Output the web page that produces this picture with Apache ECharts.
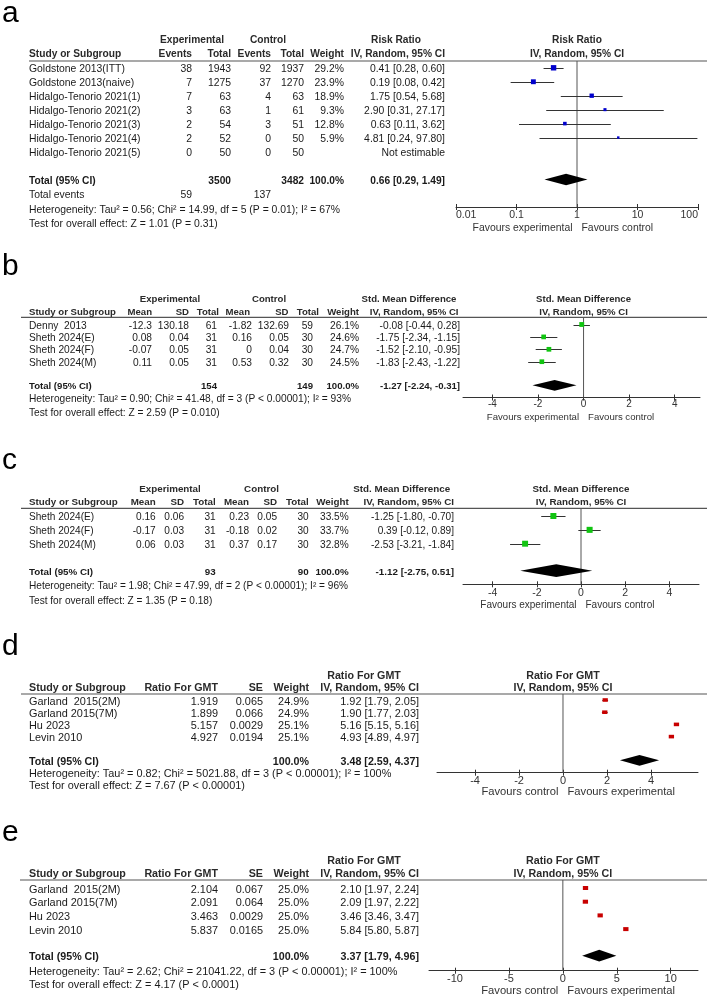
<!DOCTYPE html>
<html>
<head>
<meta charset="utf-8">
<script src="https://cdn.jsdelivr.net/npm/echarts@6.0.0/dist/echarts.min.js"></script>
<style>
  html, body { margin: 0; padding: 0; background: #fff; }
  #forest { width: 708px; height: 999px; }
</style>
</head>
<body>
<div id="forest"></div>
<script>
// ---- panel a: risk ratio (log scale) ----
const aStudies = ['Goldstone 2013(ITT)', 'Goldstone 2013(naive)', 'Hidalgo-Tenorio 2021(1)', 'Hidalgo-Tenorio 2021(2)',
  'Hidalgo-Tenorio 2021(3)', 'Hidalgo-Tenorio 2021(4)', 'Hidalgo-Tenorio 2021(5)'];
const aExpEvents = [38, 7, 7, 3, 2, 2, 0];
const aExpTotal = [1943, 1275, 63, 63, 54, 52, 50];
const aCtlEvents = [92, 37, 4, 1, 3, 0, 0];
const aCtlTotal = [1937, 1270, 63, 61, 51, 50, 50];
const aWeight = [29.2, 23.9, 18.9, 9.3, 12.8, 5.9, null];
const aEst = [0.41, 0.19, 1.75, 2.90, 0.63, 4.81, null];
const aLow = [0.28, 0.08, 0.54, 0.31, 0.11, 0.24, null];
const aHigh = [0.60, 0.42, 5.68, 27.17, 3.62, 97.80, null];
const aPooled = [0.66, 0.29, 1.49];
const aSums = [3500, 3482, 59, 137];
const aTicks = [0.01, 0.1, 1, 10, 100];
const aHet = 'Heterogeneity: Tau² = 0.56; Chi² = 14.99, df = 5 (P = 0.01); I² = 67%';
const aTest = 'Test for overall effect: Z = 1.01 (P = 0.31)';

// ---- panel b: std. mean difference ----
const bStudies = ['Denny  2013', 'Sheth 2024(E)', 'Sheth 2024(F)', 'Sheth 2024(M)'];
const bExpMean = [-12.3, 0.08, -0.07, 0.11];
const bExpSD = [130.18, 0.04, 0.05, 0.05];
const bExpN = [61, 31, 31, 31];
const bCtlMean = [-1.82, 0.16, 0, 0.53];
const bCtlSD = [132.69, 0.05, 0.04, 0.32];
const bCtlN = [59, 30, 30, 30];
const bWeight = [26.1, 24.6, 24.7, 24.5];
const bEst = [-0.08, -1.75, -1.52, -1.83];
const bLow = [-0.44, -2.34, -2.10, -2.43];
const bHigh = [0.28, -1.15, -0.95, -1.22];
const bPooled = [-1.27, -2.24, -0.31];
const bSums = [154, 149];
const bTicks = [-4, -2, 0, 2, 4];
const bHet = 'Heterogeneity: Tau² = 0.90; Chi² = 41.48, df = 3 (P < 0.00001); I² = 93%';
const bTest = 'Test for overall effect: Z = 2.59 (P = 0.010)';

// ---- panel c: std. mean difference ----
const cStudies = ['Sheth 2024(E)', 'Sheth 2024(F)', 'Sheth 2024(M)'];
const cExpMean = [0.16, -0.17, 0.06];
const cExpSD = [0.06, 0.03, 0.03];
const cExpN = [31, 31, 31];
const cCtlMean = [0.23, -0.18, 0.37];
const cCtlSD = [0.05, 0.02, 0.17];
const cCtlN = [30, 30, 30];
const cWeight = [33.5, 33.7, 32.8];
const cEst = [-1.25, 0.39, -2.53];
const cLow = [-1.80, -0.12, -3.21];
const cHigh = [-0.70, 0.89, -1.84];
const cPooled = [-1.12, -2.75, 0.51];
const cSums = [93, 90];
const cTicks = [-4, -2, 0, 2, 4];
const cHet = 'Heterogeneity: Tau² = 1.98; Chi² = 47.99, df = 2 (P < 0.00001); I² = 96%';
const cTest = 'Test for overall effect: Z = 1.35 (P = 0.18)';

// ---- panel d: ratio for GMT ----
const dStudies = ['Garland  2015(2M)', 'Garland 2015(7M)', 'Hu 2023', 'Levin 2010'];
const dRatio = [1.919, 1.899, 5.157, 4.927];
const dSE = [0.065, 0.066, 0.0029, 0.0194];
const dWeight = [24.9, 24.9, 25.1, 25.1];
const dEst = [1.92, 1.90, 5.16, 4.93];
const dLow = [1.79, 1.77, 5.15, 4.89];
const dHigh = [2.05, 2.03, 5.16, 4.97];
const dPooled = [3.48, 2.59, 4.37];
const dTicks = [-4, -2, 0, 2, 4];
const dHet = 'Heterogeneity: Tau² = 0.82; Chi² = 5021.88, df = 3 (P < 0.00001); I² = 100%';
const dTest = 'Test for overall effect: Z = 7.67 (P < 0.00001)';

// ---- panel e: ratio for GMT ----
const eStudies = ['Garland  2015(2M)', 'Garland 2015(7M)', 'Hu 2023', 'Levin 2010'];
const eRatio = [2.104, 2.091, 3.463, 5.837];
const eSE = [0.067, 0.064, 0.0029, 0.0165];
const eWeight = [25.0, 25.0, 25.0, 25.0];
const eEst = [2.10, 2.09, 3.46, 5.84];
const eLow = [1.97, 1.97, 3.46, 5.80];
const eHigh = [2.24, 2.22, 3.47, 5.87];
const ePooled = [3.37, 1.79, 4.96];
const eTicks = [-10, -5, 0, 5, 10];
const eHet = 'Heterogeneity: Tau² = 2.62; Chi² = 21041.22, df = 3 (P < 0.00001); I² = 100%';
const eTest = 'Test for overall effect: Z = 4.17 (P < 0.0001)';

const FONT = '"Liberation Sans", Arial, Helvetica, sans-serif';
const ciText = (e, l, h) => e.toFixed(2) + ' [' + l.toFixed(2) + ', ' + h.toFixed(2) + ']';
const pct = w => (w == null ? '' : w.toFixed(1) + '%');
const ciCells = (est, low, high) => est.map((e, i) => (e == null ? 'Not estimable' : ciText(e, low[i], high[i])));

const panels = [
  {
    letter: 'a', letterY: 14, h1: 40, h2: 54, lineY: 61, lineX0: 29,
    row0: 67.8, pitch: 13.95, textDy: 1.2, totalY: 179.5, hetY: 210, testY: 224,
    axisY: 207, plotX0: 456, plotX1: 698, log: true, xMin: 0.01, xMax: 100, ref: 1, ticks: aTicks,
    labelMargin: 3, tickFs: 10.5, favY: 228.5, favFs: 10.4, alignEnds: true,
    fs: 10.4, fsb: 10.2, color: '#0000cc', sq: 1.0, sqW: 1, sqH: 1, dia: 11.7,
    favours: ['Favours experimental', 'Favours control'],
    plotHead: ['Risk Ratio', 'IV, Random, 95% CI'],
    groups: [['Experimental', 192], ['Control', 268], ['Risk Ratio', 396]],
    est: aEst, low: aLow, high: aHigh, weight: aWeight, pooled: aPooled, studies: aStudies,
    cols: [
      { x: 192, head: 'Events', cells: aExpEvents.map(String) },
      { x: 231, head: 'Total', cells: aExpTotal.map(String), total: String(aSums[0]) },
      { x: 271, head: 'Events', cells: aCtlEvents.map(String) },
      { x: 304, head: 'Total', cells: aCtlTotal.map(String), total: String(aSums[1]) },
      { x: 344, head: 'Weight', cells: aWeight.map(pct), total: '100.0%' },
      { x: 445, head: 'IV, Random, 95% CI', cells: ciCells(aEst, aLow, aHigh), total: ciText(...aPooled) }
    ],
    extra: { y: 195, label: 'Total events', cells: [[192, String(aSums[2])], [271, String(aSums[3])]] },
    het: aHet, test: aTest
  },
  {
    letter: 'b', letterY: 267, h1: 299.3, h2: 312.3, lineY: 317.3, lineX0: 21,
    row0: 324.5, pitch: 12.4, textDy: 1.3, totalY: 385.3, hetY: 399.5, testY: 413.5,
    axisY: 397.5, plotX0: 463, plotX1: 700, log: false, xMin: -5.29, xMax: 5.11, ref: 0, ticks: bTicks,
    labelMargin: 1.5, tickFs: 10, favY: 417, favFs: 9.6,
    fs: 10.2, fsb: 9.6, color: '#11c411', sq: 0.95, sqW: 1, sqH: 1, dia: 10.7,
    favours: ['Favours experimental', 'Favours control'],
    plotHead: ['Std. Mean Difference', 'IV, Random, 95% CI'],
    groups: [['Experimental', 170], ['Control', 269], ['Std. Mean Difference', 409]],
    est: bEst, low: bLow, high: bHigh, weight: bWeight, pooled: bPooled, studies: bStudies,
    cols: [
      { x: 152, head: 'Mean', cells: bExpMean.map(String) },
      { x: 189, head: 'SD', cells: bExpSD.map(String) },
      { x: 217, hx: 219, head: 'Total', cells: bExpN.map(String), total: String(bSums[0]) },
      { x: 252, hx: 250, head: 'Mean', cells: bCtlMean.map(String) },
      { x: 289, hx: 288.5, head: 'SD', cells: bCtlSD.map(String) },
      { x: 313, hx: 319, head: 'Total', cells: bCtlN.map(String), total: String(bSums[1]) },
      { x: 359, head: 'Weight', cells: bWeight.map(pct), total: '100.0%' },
      { x: 460, hx: 458.5, head: 'IV, Random, 95% CI', cells: ciCells(bEst, bLow, bHigh), total: ciText(...bPooled) }
    ],
    het: bHet, test: bTest
  },
  {
    letter: 'c', letterY: 461, h1: 489.3, h2: 502.7, lineY: 508.3, lineX0: 21,
    row0: 516, pitch: 13.85, textDy: 1.5, totalY: 570.7, hetY: 586.7, testY: 601,
    axisY: 584.3, plotX0: 463, plotX1: 699, log: false, xMin: -5.34, xMax: 5.34, ref: 0, ticks: cTicks,
    labelMargin: 3, tickFs: 10.5, favY: 605, favFs: 10,
    fs: 10.1, fsb: 9.8, color: '#11c411', sq: 1.04, sqW: 1, sqH: 1, dia: 12.7,
    favours: ['Favours experimental', 'Favours control'],
    plotHead: ['Std. Mean Difference', 'IV, Random, 95% CI'],
    groups: [['Experimental', 170], ['Control', 261.5], ['Std. Mean Difference', 401.7]],
    est: cEst, low: cLow, high: cHigh, weight: cWeight, pooled: cPooled, studies: cStudies,
    cols: [
      { x: 155.7, head: 'Mean', cells: cExpMean.map(String) },
      { x: 184, head: 'SD', cells: cExpSD.map(String) },
      { x: 215.7, head: 'Total', cells: cExpN.map(String), total: String(cSums[0]) },
      { x: 249, head: 'Mean', cells: cCtlMean.map(String) },
      { x: 277, head: 'SD', cells: cCtlSD.map(String) },
      { x: 308.7, head: 'Total', cells: cCtlN.map(String), total: String(cSums[1]) },
      { x: 348.7, head: 'Weight', cells: cWeight.map(pct), total: '100.0%' },
      { x: 454, head: 'IV, Random, 95% CI', cells: ciCells(cEst, cLow, cHigh), total: ciText(...cPooled) }
    ],
    het: cHet, test: cTest
  },
  {
    letter: 'd', letterY: 647, h1: 676, h2: 688.3, lineY: 694, lineX0: 21,
    row0: 700, pitch: 12.2, textDy: 1.5, totalY: 760.3, hetY: 774.3, testY: 785.7,
    axisY: 772.7, plotX0: 437, plotX1: 698, log: false, xMin: -5.73, xMax: 6.14, ref: 0, ticks: dTicks,
    labelMargin: 2.3, tickFs: 11, favY: 792, favFs: 11.2,
    fs: 10.9, fsb: 10.7, color: '#c80000', sq: 1, sqW: 1.06, sqH: 0.72, dia: 10.7,
    favours: ['Favours control', 'Favours experimental'],
    plotHead: ['Ratio For GMT', 'IV, Random, 95% CI'],
    groups: [['Ratio For GMT', 364]],
    est: dEst, low: dLow, high: dHigh, weight: dWeight, pooled: dPooled, studies: dStudies,
    cols: [
      { x: 218, head: 'Ratio For GMT', cells: dRatio.map(v => v.toFixed(3)) },
      { x: 263, head: 'SE', cells: dSE.map(String) },
      { x: 309, head: 'Weight', cells: dWeight.map(pct), total: '100.0%' },
      { x: 419, head: 'IV, Random, 95% CI', cells: ciCells(dEst, dLow, dHigh), total: ciText(...dPooled) }
    ],
    het: dHet, test: dTest
  },
  {
    letter: 'e', letterY: 833, h1: 860.7, h2: 874, lineY: 880, lineX0: 20,
    row0: 888, pitch: 13.7, textDy: 1.5, totalY: 955.7, hetY: 972.3, testY: 985,
    axisY: 970.7, plotX0: 429, plotX1: 698, log: false, xMin: -12.41, xMax: 12.53, ref: 0, ticks: eTicks,
    labelMargin: 2.3, tickFs: 11, favY: 991, favFs: 11.2,
    fs: 10.9, fsb: 10.7, color: '#c80000', sq: 1, sqW: 1.06, sqH: 0.8, dia: 11.7,
    favours: ['Favours control', 'Favours experimental'],
    plotHead: ['Ratio For GMT', 'IV, Random, 95% CI'],
    groups: [['Ratio For GMT', 364]],
    est: eEst, low: eLow, high: eHigh, weight: eWeight, pooled: ePooled, studies: eStudies,
    cols: [
      { x: 218, head: 'Ratio For GMT', cells: eRatio.map(v => v.toFixed(3)) },
      { x: 263, head: 'SE', cells: eSE.map(String) },
      { x: 309, head: 'Weight', cells: eWeight.map(pct), total: '100.0%' },
      { x: 419, head: 'IV, Random, 95% CI', cells: ciCells(eEst, eLow, eHigh), total: ciText(...ePooled) }
    ],
    het: eHet, test: eTest
  }
];

const chart = echarts.init(document.getElementById('forest'), null, { renderer: 'canvas' });
const grid = [], xAxis = [], yAxis = [], series = [];

panels.forEach((p, k) => {
  const rowOf = y => (y - p.row0) / p.pitch;
  const gh = p.axisY - p.lineY;
  grid.push({ left: p.plotX0, top: p.lineY, width: p.plotX1 - p.plotX0, height: gh });
  yAxis.push({ gridIndex: k, type: 'value', inverse: true, min: rowOf(p.lineY), max: rowOf(p.axisY), show: false });

  const base = { gridIndex: k, type: p.log ? 'log' : 'value', min: p.xMin, max: p.xMax, splitLine: { show: false } };
  if (p.log) base.logBase = 10;
  const tickVals = p.log ? {} : { customValues: p.ticks };
  // main axis: line, downward ticks, labels
  xAxis.push(Object.assign({}, base, {
    position: 'bottom',
    axisLine: { onZero: false, lineStyle: { color: '#333', width: 1 } },
    axisTick: Object.assign({ length: 3, lineStyle: { color: '#333' } }, tickVals),
    axisLabel: Object.assign({
      margin: p.labelMargin, color: '#333', fontFamily: FONT, fontSize: p.tickFs,
      formatter: v => String(+(+v).toPrecision(3))
    }, tickVals, p.alignEnds ? { alignMinLabel: 'left', alignMaxLabel: 'right' } : {})
  }));
  // overlay axis moved down onto the bottom line: upward ticks so they cross the line
  xAxis.push(Object.assign({}, base, {
    position: 'top', offset: -gh,
    axisLine: { show: false, onZero: false },
    axisTick: Object.assign({ length: 3, lineStyle: { color: '#333' } }, tickVals),
    axisLabel: { show: false }
  }));

  const studyData = [];
  p.est.forEach((e, i) => { if (e != null) studyData.push([e, p.low[i], p.high[i], i, p.weight[i]]); });

  // reference line (no effect)
  series.push({
    type: 'line', xAxisIndex: 2 * k, yAxisIndex: k, symbol: 'none', silent: true,
    data: [[p.ref, rowOf(p.lineY)], [p.ref, rowOf(p.axisY)]],
    lineStyle: { color: '#555', width: 1 }, z: 1
  });
  // study estimates: CI whisker + weighted square
  series.push({
    type: 'custom', xAxisIndex: 2 * k, yAxisIndex: k, data: studyData, encode: { x: [0, 1, 2], y: 3 }, z: 3,
    renderItem: (params, api) => {
      const r = api.value(3);
      const c = api.coord([api.value(0), r]);
      const l = api.coord([api.value(1), r]);
      const h = api.coord([api.value(2), r]);
      const s = p.sq * Math.sqrt(api.value(4));
      const w = s * p.sqW, hh = s * p.sqH;
      const y = Math.round(c[1]) + 0.5;
      return {
        type: 'group', children: [
          { type: 'line', shape: { x1: l[0], y1: y, x2: h[0], y2: y }, style: { stroke: '#333', lineWidth: 1 } },
          { type: 'rect', shape: { x: c[0] - w / 2, y: c[1] - hh / 2, width: w, height: hh }, style: { fill: p.color } }
        ]
      };
    }
  });
  // pooled diamond
  series.push({
    type: 'custom', xAxisIndex: 2 * k, yAxisIndex: k, z: 3,
    data: [[p.pooled[0], p.pooled[1], p.pooled[2], rowOf(p.totalY)]], encode: { x: [0, 1, 2], y: 3 },
    renderItem: (params, api) => {
      const r = api.value(3);
      const c = api.coord([api.value(0), r]);
      const l = api.coord([api.value(1), r]);
      const h = api.coord([api.value(2), r]);
      const d = p.dia / 2;
      return {
        type: 'polygon',
        shape: { points: [[l[0], c[1]], [c[0], c[1] - d], [h[0], c[1]], [c[0], c[1] + d]] },
        style: { fill: '#000' }
      };
    }
  });
});

chart.setOption({ animation: false, backgroundColor: '#fff', grid, xAxis, yAxis, series });

// ---- table text, headers, labels ----
function T(x, y, s, align, bold, size, fill) {
  return {
    type: 'text', x, y, silent: true,
    style: {
      text: s, align, verticalAlign: 'middle', fill: fill || '#1a1a1a',
      fontFamily: FONT, fontSize: size, fontWeight: bold ? 'bold' : 'normal'
    }
  };
}
const graphic = [];
panels.forEach((p, k) => {
  const zeroX = chart.convertToPixel({ xAxisIndex: 2 * k }, p.ref);
  graphic.push(T(2, p.letterY, p.letter, 'left', false, 30, '#000'));
  // header rows
  p.groups.forEach(g => graphic.push(T(g[1], p.h1, g[0], 'center', true, p.fsb, '#2a2a2a')));
  graphic.push(T(zeroX, p.h1, p.plotHead[0], 'center', true, p.fsb, '#2a2a2a'));
  graphic.push(T(29, p.h2, 'Study or Subgroup', 'left', true, p.fsb, '#2a2a2a'));
  p.cols.forEach(c => graphic.push(T(c.hx || c.x, p.h2, c.head, 'right', true, p.fsb, '#2a2a2a')));
  graphic.push(T(zeroX, p.h2, p.plotHead[1], 'center', true, p.fsb, '#2a2a2a'));
  graphic.push({ type: 'line', silent: true, shape: { x1: p.lineX0, y1: p.lineY, x2: 707, y2: p.lineY }, style: { stroke: '#555', lineWidth: 1.2 } });
  // study rows
  p.studies.forEach((s, i) => {
    const y = p.row0 + p.pitch * i + p.textDy;
    graphic.push(T(29, y, s, 'left', false, p.fs));
    p.cols.forEach(c => graphic.push(T(c.x, y, c.cells[i], 'right', false, p.fs)));
  });
  // total row
  const ty = p.totalY + p.textDy;
  graphic.push(T(29, ty, 'Total (95% CI)', 'left', true, p.fsb));
  p.cols.forEach(c => { if (c.total) graphic.push(T(c.x, ty, c.total, 'right', true, p.fsb)); });
  if (p.extra) {
    graphic.push(T(29, p.extra.y, p.extra.label, 'left', false, p.fs));
    p.extra.cells.forEach(c => graphic.push(T(c[0], p.extra.y, c[1], 'right', false, p.fs)));
  }
  graphic.push(T(29, p.hetY, p.het, 'left', false, p.fs));
  graphic.push(T(29, p.testY, p.test, 'left', false, p.fs));
  // favours labels either side of the no-effect line
  graphic.push(T(zeroX - 4.5, p.favY, p.favours[0], 'right', false, p.favFs, '#333'));
  graphic.push(T(zeroX + 4.5, p.favY, p.favours[1], 'left', false, p.favFs, '#333'));
});
chart.setOption({ graphic });
</script>
</body>
</html>
